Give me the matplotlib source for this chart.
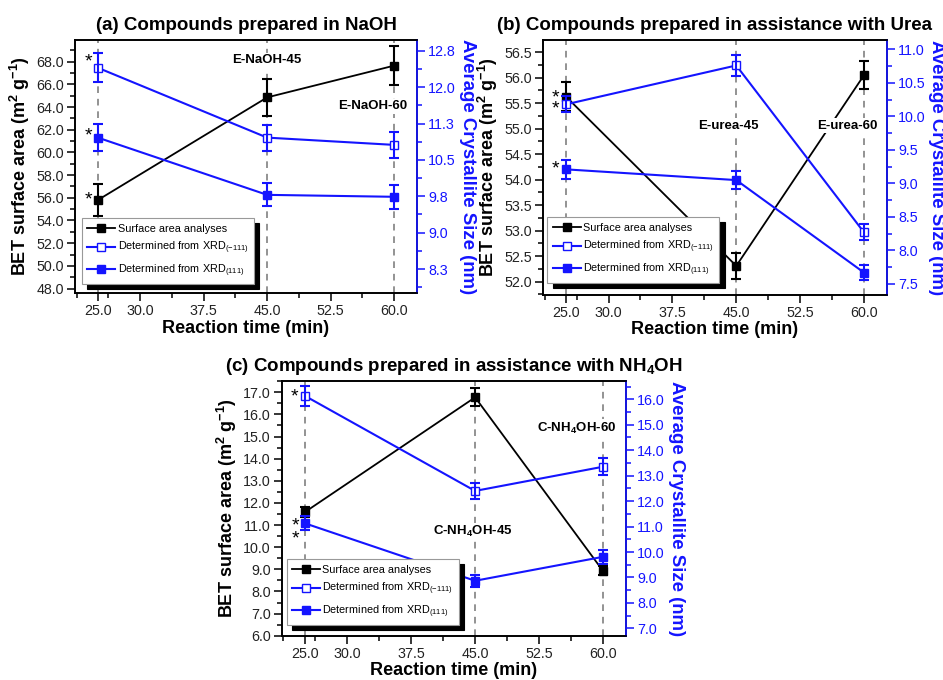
import math

import matplotlib
matplotlib.use("Agg")
import matplotlib.pyplot as plt
from matplotlib.lines import Line2D
from matplotlib.ticker import FormatStrFormatter, FuncFormatter, MultipleLocator

# reaction times (min)
TIME = [25, 45, 60]

# (a) NaOH
NAOH_BET = [55.8, 64.85, 67.65]
NAOH_BET_ERR = [1.4, 1.6, 1.7]
NAOH_M111 = [12.40, 10.96, 10.81]
NAOH_M111_ERR = [0.30, 0.27, 0.27]
NAOH_P111 = [10.96, 9.78, 9.74]
NAOH_P111_ERR = [0.28, 0.24, 0.25]

# (b) Urea
UREA_BET = [55.63, 52.31, 56.05]
UREA_BET_ERR = [0.28, 0.26, 0.28]
UREA_M111 = [10.18, 10.76, 8.27]
UREA_M111_ERR = [0.12, 0.16, 0.12]
UREA_P111 = [9.21, 9.05, 7.67]
UREA_P111_ERR = [0.14, 0.13, 0.11]

# (c) NH4OH
NH4_BET = [11.58, 16.77, 8.93]
NH4_BET_ERR = [0.22, 0.40, 0.20]
NH4_M111 = [16.14, 12.40, 13.35]
NH4_M111_ERR = [0.40, 0.32, 0.34]
NH4_P111 = [11.13, 8.87, 9.81]
NH4_P111_ERR = [0.27, 0.23, 0.28]

XTICKS = [25, 30, 37.5, 45, 52.5, 60]
XTICKLABELS = ["25.0", "30.0", "37.5", "45.0", "52.5", "60.0"]
LEGEND_LABELS = ["Surface area analyses",
                 "Determined from XRD$_{(-111)}$",
                 "Determined from XRD$_{(111)}$"]

BLUE = "#1414ff"

plt.rcParams["font.family"] = "Liberation Sans"
plt.rcParams["mathtext.fontset"] = "custom"
plt.rcParams["mathtext.rm"] = "Liberation Sans"
plt.rcParams["mathtext.it"] = "Liberation Sans:italic"
plt.rcParams["mathtext.bf"] = "Liberation Sans:bold"


def half_up(v, pos):
    return f"{math.floor(v * 10 + 0.5) / 10:.1f}"


def draw_panel(fig, rect, title, bet, bet_err, m111, m111_err, p111, p111_err,
               ylim, y2lim, ystep, y2step, tags, stars, legend_at):
    ax = fig.add_axes(rect)
    ax2 = ax.twinx()

    for t in TIME:
        ax.axvline(t, color="#808080", ls=(0, (4, 3.5)), lw=1.2, zorder=0)

    ekw = dict(fmt="none", elinewidth=1.5, capsize=3.5, capthick=1.5)
    ax.plot(TIME, bet, color="black", lw=1.3, marker="s", ms=5.5, zorder=3)
    ax.errorbar(TIME, bet, yerr=bet_err, ecolor="black", zorder=3, **ekw)
    ax2.plot(TIME, m111, color=BLUE, lw=1.5, marker="s", ms=5.5,
             mfc="white", mec=BLUE, mew=1.0, zorder=3)
    ax2.errorbar(TIME, m111, yerr=m111_err, ecolor=BLUE, zorder=3, **ekw)
    ax2.plot(TIME, p111, color=BLUE, lw=1.5, marker="s", ms=5.5, zorder=3)
    ax2.errorbar(TIME, p111, yerr=p111_err, ecolor=BLUE, zorder=3, **ekw)

    ax.set_xlim(22.3, 62.7)
    ax.set_xticks(XTICKS)
    ax.set_xticklabels(XTICKLABELS)
    ax.xaxis.get_major_ticks()[0].tick1line.set_markersize(0)
    ax.set_xticks([22.5, 26.25, 33.75, 41.25, 48.75, 56.25], minor=True)

    ax.set_ylim(*ylim)
    ax.yaxis.set_major_locator(MultipleLocator(ystep))
    ax.yaxis.set_minor_locator(MultipleLocator(ystep / 2))
    ax.yaxis.set_major_formatter(FormatStrFormatter("%.1f"))
    ax2.set_ylim(*y2lim)
    ax2.yaxis.set_major_locator(MultipleLocator(y2step))
    ax2.yaxis.set_minor_locator(MultipleLocator(y2step / 2))
    ax2.yaxis.set_major_formatter(FuncFormatter(half_up))

    for a in (ax, ax2):
        a.tick_params(which="major", direction="out", length=6, width=1.1,
                      labelsize=10.3, pad=2)
        a.tick_params(which="minor", direction="out", length=3.5, width=1.1)
        for sp in a.spines.values():
            sp.set_linewidth(1.2)
    ax.tick_params(axis="y", which="both", right=False)
    ax.tick_params(labelcolor="#222222")
    ax2.tick_params(axis="y", which="both", colors=BLUE, labelcolor=BLUE)
    ax2.spines["right"].set_color(BLUE)

    ax.set_title(title, fontsize=13.5, fontweight="bold", pad=7)
    ax.set_xlabel("Reaction time (min)", fontsize=13, fontweight="bold", labelpad=1)
    ax.set_ylabel(r"BET surface area (m$^{\mathbf{2}}$ g$^{\mathbf{-1}}$)",
                  fontsize=13, fontweight="bold", labelpad=3)
    ax2.set_ylabel("Average Crystallite Size (nm)", fontsize=13.4,
                   fontweight="bold", color=BLUE, rotation=270, labelpad=2)
    ax2.yaxis.label.set_verticalalignment("bottom")

    for txt, fx, fy in tags:
        ax2.text(fx, fy, txt, transform=ax2.transAxes, ha="center", va="center",
                 fontsize=9.5, fontweight="bold", zorder=6,
                 bbox=dict(facecolor="white", edgecolor="none", pad=1))

    for which, val, dx, dy in stars:
        target = ax if which == "L" else ax2
        target.annotate("*", xy=(25, val), xytext=(dx, dy),
                        textcoords="offset points", ha="center", va="center",
                        fontsize=14, zorder=6)

    handles = [
        Line2D([], [], color="black", lw=1.3, marker="s", ms=5.5),
        Line2D([], [], color=BLUE, lw=1.5, marker="s", ms=5.5, mfc="white", mec=BLUE),
        Line2D([], [], color=BLUE, lw=1.5, marker="s", ms=5.5),
    ]
    leg = ax2.legend(handles, LEGEND_LABELS, loc="lower left",
                     bbox_to_anchor=legend_at, borderaxespad=0, fontsize=7.8,
                     handlelength=2.6, handletextpad=0.2, labelspacing=0.55,
                     borderpad=0.5, fancybox=False, framealpha=1,
                     edgecolor="#999999",
                     shadow={"ox": 4, "oy": -3.5, "facecolor": "black",
                             "edgecolor": "black", "alpha": 1})
    leg.get_frame().set_linewidth(0.8)
    leg.set_zorder(10)
    return ax, ax2


fig = plt.figure(figsize=(9.43, 6.80), dpi=100)

draw_panel(fig, [0.0795, 0.569, 0.3627, 0.372],
           "(a) Compounds prepared in NaOH",
           NAOH_BET, NAOH_BET_ERR, NAOH_M111, NAOH_M111_ERR, NAOH_P111, NAOH_P111_ERR,
           (47.6, 69.9), (7.755, 12.97), 2.0, 0.75,
           [("E-NaOH-45", 0.561, 0.921), ("E-NaOH-60", 0.871, 0.739)],
           [("R", 12.40, -7, 4), ("R", 10.96, -7, 1), ("L", 55.8, -7, 0)],
           (0.02, 0.036))

draw_panel(fig, [0.5758, 0.5662, 0.3648, 0.375],
           "(b) Compounds prepared in assistance with Urea",
           UREA_BET, UREA_BET_ERR, UREA_M111, UREA_M111_ERR, UREA_P111, UREA_P111_ERR,
           (51.74, 56.74), (7.336, 11.14), 0.5, 0.5,
           [("E-urea-45", 0.538, 0.664), ("E-urea-60", 0.884, 0.664)],
           [("L", 55.63, -7.5, -1), ("R", 10.18, -7.5, -3), ("R", 9.21, -7.5, 0)],
           (0.012, 0.047))

draw_panel(fig, [0.2987, 0.0651, 0.3651, 0.375],
           r"(c) Compounds prepared in assistance with NH$_{\mathbf{4}}$OH",
           NH4_BET, NH4_BET_ERR, NH4_M111, NH4_M111_ERR, NH4_P111, NH4_P111_ERR,
           (6.0, 17.52), (6.71, 16.73), 1.0, 1.0,
           [(r"C-NH$_{\mathbf{4}}$OH-60", 0.857, 0.813),
            (r"C-NH$_{\mathbf{4}}$OH-45", 0.554, 0.408)],
           [("R", 16.14, -7, -1), ("R", 11.13, -6.5, -2), ("R", 11.13, -6.5, -11)],
           (0.0145, 0.042))

fig.savefig("out.png", dpi=100)
